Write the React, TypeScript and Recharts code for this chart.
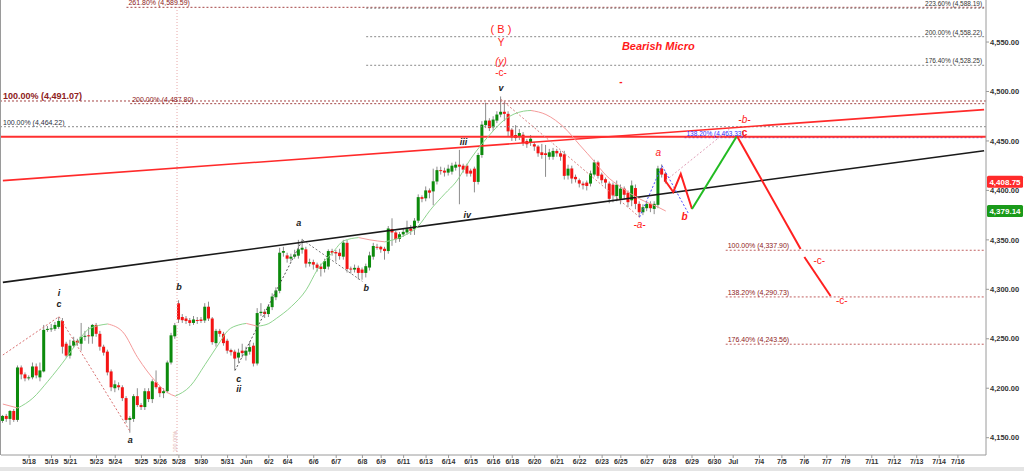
import React from 'react';
import { ComposedChart, Bar, Line, XAxis, YAxis, ReferenceLine, ReferenceDot } from 'recharts';

const SLOT_COUNT = 263;

const opens = [
  4167, 4172, 4169, 4177, 4168, 4221, 4214, 4210, 4211, 4222, 4211, 4217, 4259, 4260, 4260, 4262, 4268, 4245, 4233, 4243,
  4248, 4245, 4252, 4253.5, 4252.5, 4264, 4255, 4242, 4237, 4217, 4200, 4203, 4201, 4190, 4168, 4169, 4192, 4183, 4181, 4197,
  4189, 4206, 4201, 4195, 4197, 4226, 4252.5, 4285.8, 4272, 4270.5, 4268.8, 4266, 4269, 4269.5, 4268.5, 4282.4, 4270.5, 4245.6, 4258, 4255,
  4248, 4238.6, 4237, 4231, 4238, 4233, 4237, 4243, 4225, 4276, 4277.3, 4275, 4282, 4292, 4298.5, 4337, 4334.3, 4331, 4333, 4334,
  4340, 4340.4, 4326, 4327.5, 4325, 4323, 4320.6, 4323, 4338.7, 4337.7, 4337, 4333, 4347, 4321, 4320, 4321.7, 4320, 4316.6, 4322, 4333,
  4343, 4343, 4341, 4338.7, 4361, 4357.5, 4351, 4355.5, 4357.5, 4361.5, 4360.8, 4369.4, 4393.2, 4392, 4400, 4399, 4409, 4420.5, 4420, 4418,
  4419, 4423, 4426, 4425, 4425, 4420, 4422, 4408.6, 4435.8, 4466, 4470.6, 4463.8, 4470.6, 4476.7, 4479.5, 4477.4, 4461.4, 4456, 4454.6, 4456.3,
  4450, 4448.8, 4446.7, 4444.4, 4438.5, 4437.5, 4434, 4434, 4439.9, 4437.5, 4436.5, 4415, 4422.2, 4413.7, 4410.3, 4406.9, 4407.9, 4406.9, 4416, 4428.3,
  4416, 4411.3, 4406.9, 4405.8, 4394.3, 4391.5, 4401.8, 4397.7, 4390, 4402.4, 4386.4, 4377.9, 4382, 4386.4, 4381.3, 4385.4, 4422.2, 4417
];
const highs = [
  4173, 4174, 4178, 4179, 4223, 4223, 4216, 4213, 4226, 4225, 4226, 4264, 4263, 4265, 4267, 4272, 4271, 4247, 4249, 4252,
  4250, 4266, 4258, 4262, 4265, 4266, 4258, 4244, 4239, 4219, 4208, 4206, 4203, 4192, 4172, 4194, 4200, 4185, 4200, 4200,
  4209, 4218, 4202, 4200, 4228, 4256, 4266, 4289, 4275, 4273, 4271, 4273, 4272, 4272, 4286, 4287.5, 4272, 4260, 4260, 4257,
  4250, 4240, 4239, 4240, 4245, 4242, 4247, 4246, 4281, 4286, 4280, 4285, 4296, 4302, 4342, 4343, 4337, 4336, 4340, 4350,
  4351, 4343, 4331, 4330, 4327, 4326, 4331, 4340.4, 4341, 4340, 4341, 4350, 4350, 4323, 4325, 4324, 4322, 4326, 4338, 4347,
  4346, 4344, 4343, 4364, 4371.8, 4359, 4358, 4361, 4369.4, 4365, 4372, 4396, 4395, 4404, 4402, 4422, 4424, 4424, 4423, 4426,
  4428, 4429, 4441, 4427, 4427, 4422, 4424, 4438, 4470, 4488.7, 4473, 4475, 4480, 4495, 4490, 4480, 4463, 4466, 4462, 4459,
  4452, 4456, 4449, 4446, 4447, 4446, 4442, 4443, 4442, 4440, 4440, 4426, 4425, 4416, 4412, 4409, 4410, 4420, 4431, 4430,
  4418, 4413, 4409, 4408, 4410, 4406, 4404, 4400, 4410, 4406, 4389, 4386, 4389, 4389, 4389, 4424.9, 4426.3, 4419
];
const lows = [
  4165, 4166, 4163, 4166, 4166, 4209, 4207, 4208, 4209, 4210, 4207, 4216, 4257, 4257, 4258, 4260, 4235, 4231, 4230, 4241,
  4243, 4238, 4248, 4245, 4245, 4252, 4238, 4233, 4213, 4197, 4196, 4198, 4187, 4165, 4155, 4166, 4181, 4178, 4178, 4186,
  4185, 4199, 4191, 4190, 4195, 4224, 4250, 4266, 4266, 4265, 4263, 4264, 4265, 4266, 4266, 4268, 4244, 4242, 4252, 4243,
  4235, 4233, 4218, 4226, 4231, 4228, 4234, 4222, 4223, 4273, 4271, 4272, 4279, 4289, 4296, 4333, 4327, 4328, 4331, 4331,
  4336, 4322, 4323, 4320, 4318, 4313, 4317, 4320, 4334, 4328, 4330, 4330, 4317, 4316, 4317, 4310, 4309.7, 4312, 4319, 4330,
  4340, 4337, 4330, 4336, 4344, 4347, 4348, 4353, 4355, 4355, 4355, 4367, 4388, 4389, 4392, 4385, 4406, 4416, 4414, 4415,
  4416, 4420, 4386, 4418, 4414, 4414, 4398, 4406, 4433, 4463, 4460, 4460, 4468, 4474, 4470, 4455, 4450, 4450, 4451, 4445,
  4443, 4445, 4440, 4434, 4432, 4413.7, 4431, 4431, 4434, 4430, 4411, 4411, 4406.9, 4408, 4403, 4401, 4400, 4404, 4414, 4412,
  4407, 4402, 4387, 4388, 4389, 4386, 4391, 4383, 4384, 4381, 4372.8, 4375, 4379, 4378, 4376, 4382, 4413, 4407
];
const closes = [
  4172, 4169, 4177, 4168, 4221, 4214, 4210, 4211, 4222, 4213, 4218, 4259, 4260, 4260.5, 4264, 4268, 4242, 4233, 4243, 4248,
  4246, 4252, 4253, 4252.5, 4264, 4255, 4242, 4236, 4216, 4201, 4204, 4201, 4190, 4168, 4170, 4192, 4183, 4181, 4197, 4189,
  4207, 4201, 4195, 4197, 4226, 4253.5, 4263.7, 4269.5, 4268.8, 4268, 4266, 4269.5, 4268, 4268, 4282.4, 4270.5, 4246.6, 4258, 4255, 4245.6,
  4238, 4236.5, 4230, 4236, 4235.5, 4238, 4241.6, 4225, 4276, 4277.3, 4275, 4282.5, 4292.7, 4298.8, 4337, 4338.7, 4331, 4333, 4335.3, 4340.4,
  4342, 4326, 4327.5, 4325, 4321.7, 4320.6, 4328.5, 4338.7, 4337, 4336.3, 4333.6, 4347.2, 4320.6, 4320, 4321.7, 4316.6, 4316.6, 4323.4, 4334.3, 4343.8,
  4342.5, 4340.4, 4338.7, 4361.5, 4357.5, 4350.6, 4355.7, 4358.1, 4360.8, 4359.2, 4369.4, 4393.2, 4391.5, 4400, 4397.7, 4409.2, 4420.5, 4419.5, 4418, 4422,
  4425, 4426, 4424, 4421, 4417, 4417, 4408.6, 4435.8, 4466.5, 4470.6, 4463, 4471.6, 4476.7, 4479.5, 4477.4, 4459.7, 4453.6, 4452.9, 4458, 4447.8,
  4446.7, 4452.2, 4444.4, 4437.5, 4435.8, 4435.8, 4438.5, 4439.9, 4437.5, 4434.1, 4414.7, 4422, 4412, 4411.3, 4406.9, 4405.2, 4404.5, 4417.1, 4428.3, 4414.7,
  4410.3, 4407.9, 4391.5, 4394.9, 4405.8, 4401.8, 4395.6, 4388.1, 4405, 4386.4, 4377.9, 4383, 4386.4, 4382, 4386.4, 4422.2, 4416, 4408.75
];

const tickSlots = [7, 13, 18, 25, 30, 37, 42, 47, 53, 60, 65, 71, 76, 83, 89, 96, 101, 107, 113, 119, 125, 131, 136, 142, 148, 154, 160, 165, 172, 178, 184, 190, 195, 202, 208, 214, 220, 225, 232, 238, 244, 250, 255];
const tickLabels = ['5/18', '5/19', '5/21', '5/23', '5/24', '5/25', '5/26', '5/28', '5/30', '5/31', 'Jun', '6/2', '6/4', '6/6', '6/7', '6/8', '6/9', '6/11', '6/13', '6/14', '6/15', '6/16', '6/18', '6/20', '6/21', '6/22', '6/23', '6/25', '6/27', '6/28', '6/29', '6/30', 'Jul', '7/4', '7/5', '7/6', '7/7', '7/9', '7/11', '7/12', '7/13', '7/14', '7/16'];
const yTicks = [4150, 4200, 4250, 4300, 4350, 4400, 4450, 4500, 4550];

// smoothed moving average, read at knots [slot, value]
const maKnots: [number, number][] = [
  [0, 4184], [4, 4180], [8, 4190], [12, 4207], [17, 4231], [20, 4247], [23, 4260], [28, 4265], [32, 4257], [36, 4231],
  [41, 4206], [44, 4195.5], [46, 4192], [50, 4202], [54, 4224], [58, 4247], [60, 4258], [63, 4264], [65, 4265.5], [68, 4262.7],
  [71, 4265.4], [73, 4270.5], [77, 4282.5], [81, 4299.5], [84, 4320], [88, 4337], [91, 4349], [95, 4352.3], [98, 4350], [102, 4348],
  [107, 4354], [111, 4364.3], [114, 4379.6], [118, 4396.6], [121, 4408.6], [125, 4432.4], [130, 4456.3], [134, 4471.6], [139, 4480.1], [141, 4480.8],
  [145, 4476.7], [150, 4463.1], [154, 4446], [158, 4429], [161, 4415.4], [165, 4403.4], [170, 4391.5], [175, 4383], [177, 4379.14]
];

// projected path
const projRedA: [number, number][] = [[177, 4409], [179, 4398.4], [181, 4416.6], [184, 4381.2]];
const projGreen: [number, number][] = [[184, 4381.2], [196, 4455]];
const projRedB: [number, number][] = [[196, 4455], [213, 4340.8]];
const projRedC: [number, number][] = [[214, 4332.7], [221, 4293.3]];

type Fib = { v: number; from: number | null; text: string; color: string; size: number; bold?: boolean; align: 'left' | 'right'; line: string };
const fibLevels: Fib[] = [
  { v: 4490.4, from: null, text: '100.00% (4,491.07)', color: '#8e2020', size: 9, bold: true, align: 'left', line: '#a54545' },
  { v: 4487.7, from: 34, text: '200.00% (4,487.80)', color: '#8e2020', size: 7, align: 'left', line: '#a54545' },
  { v: 4585.1, from: 33, text: '261.80% (4,589.59)', color: '#8e2020', size: 7, align: 'left', line: '#a54545' },
  { v: 4464.4, from: null, text: '100.00% (4,464.22)', color: '#2b3040', size: 7, align: 'left', line: '#8a8a8a' },
  { v: 4584.2, from: 97, text: '223.60% (4,588.19)', color: '#333', size: 6.5, align: 'right', line: '#8a8a8a' },
  { v: 4555.4, from: 97, text: '200.00% (4,558.22)', color: '#333', size: 6.5, align: 'right', line: '#8a8a8a' },
  { v: 4526.5, from: 97, text: '176.40% (4,528.25)', color: '#333', size: 6.5, align: 'right', line: '#8a8a8a' },
  { v: 4453.3, from: 182, text: '138.20% (4,463.33)', color: '#3030ff', size: 6.5, align: 'left', line: '#5050ff' },
  { v: 4339.5, from: 193, text: '100.00% (4,337.90)', color: '#8e2020', size: 7, align: 'left', line: '#c06060' },
  { v: 4292.3, from: 193, text: '138.20% (4,290.73)', color: '#8e2020', size: 7, align: 'left', line: '#c06060' },
  { v: 4244.5, from: 193, text: '176.40% (4,243.56)', color: '#8e2020', size: 7, align: 'left', line: '#c06060' }
];

type Seg = { a: [number, number]; b: [number, number]; color: string; w: number; dash?: string };
const trendLines: Seg[] = [
  { a: [0, 4307], b: [262, 4440.1], color: '#1a1a1a', w: 1.6 },
  { a: [0, 4409.9], b: [262, 4481.7], color: '#ff2a2a', w: 1.6 }
];
const connectors: Seg[] = [
  { a: [0, 4233.6], b: [15, 4272.4], color: '#d97070', w: 1, dash: '2 2' },
  { a: [15, 4272.4], b: [34, 4156.1], color: '#d97070', w: 1, dash: '2 2' },
  { a: [62, 4218], b: [80, 4350], color: '#555', w: 1, dash: '2 2' },
  { a: [80, 4350], b: [96, 4308], color: '#777', w: 1, dash: '2 2' },
  { a: [133, 4492], b: [170, 4373], color: '#d98080', w: 1, dash: '2 2' },
  { a: [170, 4373], b: [176, 4425], color: '#4a4aff', w: 1, dash: '2 2' },
  { a: [176, 4425], b: [183, 4377], color: '#4a4aff', w: 1, dash: '2 2' },
  { a: [177, 4410], b: [194, 4462], color: '#e0a0b8', w: 1, dash: '2 2' }
];
const redLevel = 4454.3;

type Note = { i: number; v: number; t: string; c: string; s: number; it?: boolean; b?: boolean };
const notes: Note[] = [
  { i: 15, v: 4296.3, t: 'i', c: '#222', s: 9, it: true, b: true },
  { i: 15, v: 4285.2, t: 'c', c: '#222', s: 9, it: true, b: true },
  { i: 47, v: 4302.4, t: 'b', c: '#222', s: 9, it: true, b: true },
  { i: 79, v: 4367.1, t: 'a', c: '#222', s: 9, it: true, b: true },
  { i: 34, v: 4147.7, t: 'a', c: '#222', s: 9, it: true, b: true },
  { i: 63, v: 4209.4, t: 'c', c: '#222', s: 9, it: true, b: true },
  { i: 63, v: 4199.3, t: 'ii', c: '#222', s: 9, it: true, b: true },
  { i: 97, v: 4301.4, t: 'b', c: '#222', s: 9, it: true, b: true },
  { i: 123, v: 4449.0, t: 'iii', c: '#222', s: 9, it: true, b: true },
  { i: 124, v: 4375.2, t: 'iv', c: '#222', s: 9, it: true, b: true },
  { i: 133, v: 4503.6, t: 'v', c: '#222', s: 9, it: true, b: true },
  { i: 133, v: 4562.8, t: '( B )', c: '#ff1a1a', s: 11 },
  { i: 133, v: 4550.0, t: 'Y', c: '#ff1a1a', s: 10 },
  { i: 133, v: 4530.2, t: '(y)', c: '#ff1a1a', s: 10, it: true },
  { i: 133, v: 4519.0, t: '-c-', c: '#ff1a1a', s: 10 },
  { i: 175, v: 4546.0, t: 'Bearish Micro', c: '#ff1a1a', s: 11, it: true, b: true },
  { i: 165, v: 4509.9, t: '-', c: '#ff1a1a', s: 10, b: true },
  { i: 175, v: 4438.2, t: 'a', c: '#ff1a1a', s: 10, it: true },
  { i: 170, v: 4365.1, t: '-a-', c: '#ff1a1a', s: 10, it: true },
  { i: 182, v: 4373.5, t: 'b', c: '#ff1a1a', s: 10, it: true, b: true },
  { i: 198, v: 4471.9, t: '-b-', c: '#ff1a1a', s: 10, it: true },
  { i: 198, v: 4458.4, t: 'c', c: '#ff1a1a', s: 10, b: true },
  { i: 218, v: 4328.7, t: '-c-', c: '#ff1a1a', s: 10 },
  { i: 224, v: 4288.5, t: '-c-', c: '#ff1a1a', s: 10 }
];

// ---- build table ----
const maRuns: { pts: [number, number][]; up: boolean }[] = [];
{
  let cur: [number, number][] = [maKnots[0]];
  let dir = 0;
  for (let k = 1; k < maKnots.length; k++) {
    const d = Math.sign(maKnots[k][1] - maKnots[k - 1][1]);
    if (dir !== 0 && d !== dir) {
      maRuns.push({ pts: cur, up: dir > 0 });
      cur = [maKnots[k - 1]];
    }
    dir = d;
    cur.push(maKnots[k]);
  }
  maRuns.push({ pts: cur, up: dir > 0 });
}

const rows: any[] = Array.from({ length: SLOT_COUNT }, (_, i) => {
  const row: any = { i };
  if (i < opens.length) {
    row.o = opens[i];
    row.h = highs[i];
    row.l = lows[i];
    row.c = closes[i];
    row.ohlc = [lows[i], highs[i]];
  }
  return row;
});
maRuns.forEach((run, r) => run.pts.forEach(([i, v]) => { rows[i]['ma' + r] = v; }));
const projSets: { key: string; pts: [number, number][]; color: string }[] = [
  { key: 'pa', pts: projRedA, color: '#ff2020' },
  { key: 'pg', pts: projGreen, color: '#22bb22' },
  { key: 'pb', pts: projRedB, color: '#ff2020' },
  { key: 'pc', pts: projRedC, color: '#ff2020' }
];
projSets.forEach((p) => p.pts.forEach(([i, v]) => { rows[i][p.key] = v; }));

const labelFor: Record<number, string> = {};
tickSlots.forEach((s, k) => { labelFor[s] = tickLabels[k]; });

const Candle = (props: any) => {
  const { x, y, width, height, payload } = props;
  if (!payload || payload.o == null || !isFinite(y) || !isFinite(height)) return null;
  const top = Math.min(y, y + height);
  const h = Math.abs(height);
  const { o, h: hi, l: lo, c } = payload;
  const k = hi === lo ? 0 : h / (hi - lo);
  const bTop = top + (hi - Math.max(o, c)) * k;
  const bBot = top + (hi - Math.min(o, c)) * k;
  const cx = x + width / 2;
  const up = c >= o;
  return (
    <g>
      <line x1={cx} x2={cx} y1={top} y2={top + h} stroke="#8c8c8c" strokeWidth={1} />
      <rect x={x} y={bTop} width={width} height={Math.max(1, bBot - bTop)} fill={up ? '#0c8a0c' : '#f41414'} />
    </g>
  );
};

const PriceTag = (props: any) => {
  const { viewBox, text, color } = props;
  if (!viewBox) return null;
  const left = viewBox.x + viewBox.width + 1;
  const cy = viewBox.y;
  return (
    <g>
      <rect x={left} y={cy - 6} width={36} height={12} fill={color} rx={1.5} />
      <text x={left + 18} y={cy + 3} textAnchor="middle" fill="#ffffff" fontSize={8} fontWeight={700}>{text}</text>
    </g>
  );
};

const fmtY = (v: number) => v.toLocaleString('en-US', { minimumFractionDigits: 2, maximumFractionDigits: 2 });

export default function App() {
  return (
    <div style={{ position: 'absolute', left: 0, top: 0, width: 1024, height: 471, background: '#fff', fontFamily: '"Liberation Sans", Arial, sans-serif', overflow: 'hidden' }}>
      <div style={{ position: 'absolute', left: 0, top: 0, width: 1, height: 455, background: '#9a9a9a' }} />
      <div style={{ position: 'absolute', left: 0, top: 467, width: 1024, height: 4, background: '#e4e4e4' }} />
      <ComposedChart width={1024} height={471} data={rows} margin={{ top: 0, right: 0, bottom: 0, left: 1 }}>
        <XAxis
          dataKey="i"
          type="category"
          ticks={tickSlots}
          interval={0}
          tickFormatter={(v: any) => labelFor[v] ?? ''}
          height={16}
          tickSize={3}
          tickMargin={1}
          stroke="#9a9a9a"
          tick={{ fontSize: 7, fontWeight: 700, fill: '#333' }}
        />
        <YAxis
          orientation="right"
          width={38}
          domain={[4132.5, 4592.5]}
          allowDataOverflow
          ticks={yTicks}
          interval={0}
          tickFormatter={fmtY}
          tickSize={3}
          tickMargin={1}
          stroke="#9a9a9a"
          tick={{ fontSize: 7.5, fontWeight: 700, fill: '#333' }}
        />
        <ReferenceLine x={47} position="start" stroke="#e8a8a8" strokeDasharray="1 2" strokeWidth={1} />
        <ReferenceDot x={46} y={4146} r={0} label={{ value: '100.00%', position: 'center', fill: '#e0b0b0', fontSize: 5.5, angle: -90 }} />
        {fibLevels.map((f, k) =>
          f.from === null ? (
            <ReferenceLine key={'f' + k} y={f.v} stroke={f.line} strokeDasharray="2 2" strokeWidth={1}
              label={{ value: f.text, position: f.align === 'left' ? 'insideBottomLeft' : 'insideBottomRight', offset: 2, fill: f.color, fontSize: f.size, fontWeight: f.bold ? 700 : 400 }} />
          ) : (
            <ReferenceLine key={'f' + k} segment={[{ x: f.from, y: f.v }, { x: SLOT_COUNT - 1, y: f.v }]} stroke={f.line} strokeDasharray="2 2" strokeWidth={1}
              label={{ value: f.text, position: f.align === 'left' ? 'insideBottomLeft' : 'insideBottomRight', offset: 2, fill: f.color, fontSize: f.size, fontWeight: f.bold ? 700 : 400 }} />
          )
        )}
        <ReferenceLine y={redLevel} stroke="#ff3030" strokeWidth={2} />
        {trendLines.concat(connectors).map((s, k) => (
          <ReferenceLine key={'s' + k} segment={[{ x: s.a[0], y: s.a[1] }, { x: s.b[0], y: s.b[1] }]} stroke={s.color} strokeWidth={s.w} strokeDasharray={s.dash} />
        ))}
        <Bar dataKey="ohlc" shape={<Candle />} barSize={3} isAnimationActive={false} />
        {maRuns.map((run, r) => (
          <Line key={'ma' + r} dataKey={'ma' + r} type="monotone" connectNulls dot={false} activeDot={false}
            stroke={run.up ? '#8fd48f' : '#f59a9a'} strokeWidth={1} isAnimationActive={false} />
        ))}
        {projSets.map((p) => (
          <Line key={p.key} dataKey={p.key} type="linear" connectNulls dot={false} activeDot={false}
            stroke={p.color} strokeWidth={2} isAnimationActive={false} />
        ))}
        {notes.map((n, k) => (
          <ReferenceDot key={'n' + k} x={n.i} y={n.v} r={0} stroke="none"
            label={{ value: n.t, position: 'center', fill: n.c, fontSize: n.s, fontStyle: n.it ? 'italic' : 'normal', fontWeight: n.b ? 700 : 400 }} />
        ))}
        <ReferenceLine y={4408.75} stroke="none" label={<PriceTag text="4,408.75" color="#ff2a2a" />} />
        <ReferenceLine y={4379.14} stroke="none" label={<PriceTag text="4,379.14" color="#1a9a1a" />} />
      </ComposedChart>
    </div>
  );
}
